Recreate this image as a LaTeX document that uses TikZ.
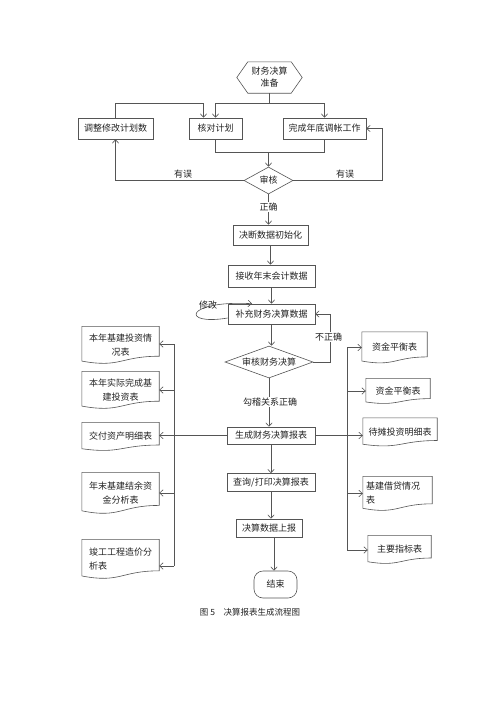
\documentclass[tikz,border=0pt]{standalone}
\usepackage{fontspec}
\setmainfont{Noto Sans CJK SC}
\usetikzlibrary{arrows.meta,shapes.geometric,calc}
\definecolor{lc}{RGB}{85,85,85}
\definecolor{tc}{RGB}{35,35,35}
\newcommand{\docout}[1]{\draw[ln] (#1.north west) -- (#1.north east) -- ($(#1.north east)!0.8!(#1.south east)$) .. controls ($(#1.north)!0.8!(#1.south)$) and ($(#1.north)!1.12!(#1.south)$) .. ($(#1.north west)!0.93!(#1.south west)$) -- cycle;}
\begin{document}
\begin{tikzpicture}[x=1pt,y=-1pt,
  font=\fontsize{9}{14}\selectfont,
  ln/.style={draw=lc, line width=0.6pt},
  arr/.style={ln,-{Straight Barb[length=3.5pt,width=6.5pt]}},
  box/.style={draw=lc, line width=0.6pt, rectangle, inner sep=1pt, text=tc},
  dec/.style={draw=lc, line width=0.6pt, diamond, inner sep=0pt, text=tc},
  doc/.style={inner sep=2pt, text=tc, align=center},
  lbl/.style={text=tc, fill=white, inner sep=1pt},
  lbn/.style={text=tc, inner sep=1pt},
]
\useasboundingbox[fill=white] (0,0) rectangle (500,707);

% main column
\node[inner sep=1pt, text=tc, align=center, minimum width=65pt, minimum height=31pt] (prep) at (269.5,77.5) {财务决算\\[-2pt]准备};
\draw[ln] (prep.west) -- ([xshift=11pt]prep.north west) -- ([xshift=-11pt]prep.north east) -- (prep.east) -- ([xshift=-11pt]prep.south east) -- ([xshift=11pt]prep.south west) -- cycle;

\node[box, minimum width=75pt, minimum height=21pt] (adj) at (115.5,128.5) {调整修改计划数};
\node[box, minimum width=53pt, minimum height=21pt] (check) at (215.5,128.5) {核对计划};
\node[box, minimum width=83pt, minimum height=21pt] (done) at (324.5,128.5) {完成年底调帐工作};
\node[dec, minimum width=49pt, minimum height=27pt, aspect=1.8] (audit) at (268.5,180.5) {审核};
\node[box, minimum width=75pt, minimum height=20pt] (init) at (270.5,235) {决断数据初始化};
\node[box, minimum width=87pt, minimum height=22pt] (recv) at (271.5,276) {接收年末会计数据};
\node[box, minimum width=87pt, minimum height=20pt] (supp) at (271.5,314) {补充财务决算数据};
\node[dec, minimum width=88pt, minimum height=32pt, aspect=2.75] (audit2) at (269,362) {审核财务决算};
\node[box, minimum width=88pt, minimum height=17pt] (gen) at (271,435.5) {生成财务决算报表};
\node[box, minimum width=88pt, minimum height=18pt] (query) at (271,482.5) {查询/打印决算报表};
\node[box, minimum width=66pt, minimum height=18pt] (report) at (269,528) {决算数据上报};
\node[box, rounded corners=9pt, minimum width=43pt, minimum height=27pt] (end) at (275.5,584.5) {结束};

% left documents
\node[doc, minimum width=77pt, minimum height=37pt] (L1) at (120.5,345) {本年基建投资情\\况表};
\node[doc, minimum width=77pt, minimum height=37pt] (L2) at (120.5,390) {本年实际完成基\\建投资表};
\node[doc, minimum width=77pt, minimum height=28pt] (L3) at (120.5,436.5) {交付资产明细表};
\node[doc, minimum width=77pt, minimum height=41pt] (L4) at (120.5,493) {年末基建结余资\\金分析表};
\node[doc, minimum width=77pt, minimum height=39pt, align=left] (L5) at (120.5,559) {竣工工程造价分\\析表};
% right documents
\node[doc, minimum width=65pt, minimum height=31pt] (R1) at (394.5,347.5) {资金平衡表};
\node[doc, minimum width=64pt, minimum height=25pt] (R2) at (398,391) {资金平衡表};
\node[doc, minimum width=74pt, minimum height=28pt] (R3) at (400,432) {待摊投资明细表};
\node[doc, minimum width=69pt, minimum height=34pt, align=left, text width=63pt] (R4) at (397.5,493.5) {基建借贷情况\\表};
\node[doc, minimum width=63pt, minimum height=28pt] (R5) at (399.5,549.5) {主要指标表};
\foreach \d in {L1,L2,L3,L4,L5,R1,R2,R3,R4,R5} {\docout{\d}}

% top connectors
\coordinate (j1) at ($(prep.south)+(0,10)$);
\draw[ln] (prep.south) -- (j1);
\draw[arr] (j1) -| (check.north);
\draw[arr] (j1) -| (done.north);
\draw[arr] (adj.north) -- ++(0,-14) -| ([xshift=-12pt]check.north);
\coordinate (j2) at ($(audit.north)+(0,-14)$);
\draw[ln] (check.south) |- (j2) -| (done.south);
\draw[arr] (j2) -- (audit.north);
\draw[arr] (audit.west) -| (adj.south);
\draw[arr] (audit.east) -- ++(89,0) |- (done.east);
\draw[arr] (audit.south) -- (audit.south |- init.north);
\draw[arr] (init.south) -- (init.south |- recv.north);
\draw[arr] (recv.south) -- (recv.south |- supp.north);
\draw[arr] ([yshift=-4pt]supp.west) .. controls (180,326) and (185,300) .. ([xshift=-19.5pt]supp.north);
\draw[arr] (supp.south) -- (supp.south |- audit2.north);
\draw[arr] (audit2.east) -- ++(17,0) |- (supp.east);
\draw[arr] (audit2.south) -- (audit2.south |- gen.north);
\draw[arr] (gen.south) -- (gen.south |- query.north);
\draw[arr] (query.south) -- (query.south |- report.north);
\draw[arr] ([xshift=5pt]report.south) -- ([xshift=5pt]report.south |- end.north);

% left trunk
\coordinate (lt) at (174,344);
\coordinate (lb) at (174,566);
\draw[ln] (lt) -- (lb);
\draw[arr] (lt) -- (lt -| L1.east);
\draw[arr] (lt |- L2.east) -- (L2.east);
\draw[arr] (gen.west) -- (gen.west -| L3.east);
\draw[arr] (lt |- L4.east) -- (L4.east);
\draw[arr] (lb) -- (lb -| L5.east);
% right trunk
\coordinate (rt) at (347,347.5);
\coordinate (rb) at (347,550);
\draw[ln] (rt) -- (rb);
\draw[arr] (rt) -- (R1.west);
\draw[arr] (rt |- R2.west) -- (R2.west);
\draw[arr] (gen.east) -- (gen.east -| R3.west);
\draw[arr] (rt |- R4.west) -- (R4.west);
\draw[arr] (rb) -- (rb -| R5.west);

% labels
\node[lbn] (e1) at (183,174.5) {有误};
\node[lbn] (e2) at (345,174.5) {有误};
\node[lbl] (ok1) at (268.5,207) {正确};
\node[lbn] (mod) at (208,305) {修改};
\node[lbl] (bad) at (328.5,337) {不正确};
\node[lbl] (ok2) at (270,402) {勾稽关系正确};
\node[text=tc, font=\fontsize{8.5}{10}\selectfont] (cap) at (250,612) {图 5\quad 决算报表生成流程图};
\end{tikzpicture}
\end{document}
